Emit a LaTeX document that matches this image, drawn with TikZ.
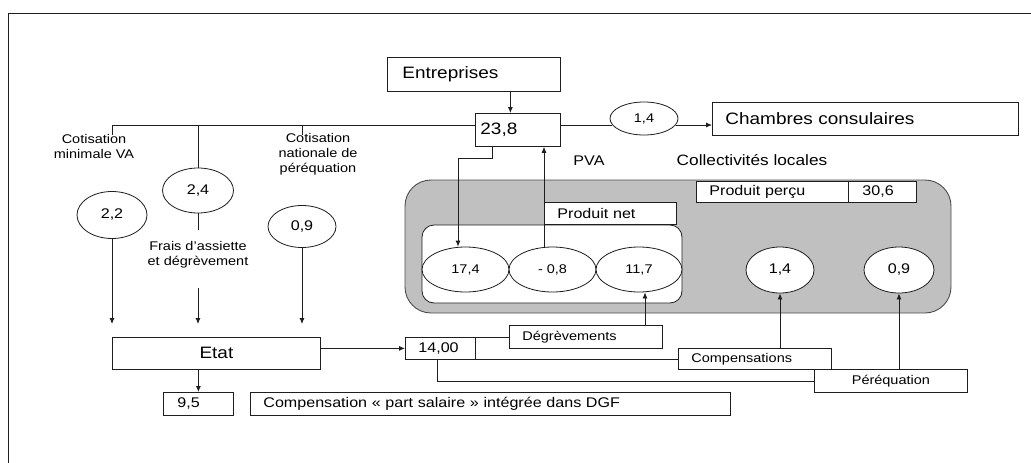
\documentclass[tikz,border=0pt]{standalone}
\usepackage{fontspec}
\setmainfont{Liberation Sans}[FakeStretch=1.15]
\usetikzlibrary{shapes.geometric,arrows.meta,calc}
\definecolor{greyfill}{RGB}{192,192,192}
\definecolor{ink}{RGB}{30,30,30}
\newcommand{\fbig}{\fontsize{16.5}{19}\selectfont}
\newcommand{\fmed}{\fontsize{14}{16}\selectfont}
\newcommand{\fsml}{\fontsize{12.6}{15}\selectfont}
\begin{document}
\begin{tikzpicture}[x=1pt,y=-1pt,
  line/.style={draw=ink,line width=0.8pt},
  arr/.style={line,-{Latex[length=6pt,width=5pt]}},
  tbox/.style={draw=ink,line width=0.8pt,rectangle,inner ysep=0pt,align=left,anchor=north west,fill=white},
  ell/.style={draw=ink,line width=0.8pt,ellipse,inner sep=0pt,fill=white},
  lbl/.style={align=center,inner sep=0pt,font=\fsml}]
\useasboundingbox (0,0) rectangle (1031,463);
% outer frame
\coordinate (fbl) at (8,463);
\coordinate (ftl) at (8,13);
\coordinate (ftr) at (1031,13);
\draw[line] (fbl) -- (ftl) -- (ftr);

% collectivites locales box
\node[draw=gray!60!black,line width=0.9pt,fill=greyfill,rounded corners=26pt,minimum width=546pt,minimum height=133pt,inner sep=0pt] (cl) at (678,246.5) {};
\node[draw=ink,line width=0.8pt,fill=white,rounded corners=12pt,minimum width=260pt,minimum height=78pt,inner sep=0pt] (pnbox) at (552,264) {};

% boxes
\node[tbox,inner xsep=15pt,text width=143pt,minimum height=34pt,font=\fbig] (ent) at (387,57) {Entreprises};
\node[tbox,inner xsep=5pt,text width=75pt,minimum height=33pt,font=\fbig] (b238) at (475,113) {23,8};
\node[tbox,inner xsep=13pt,text width=280pt,minimum height=33pt,font=\fbig] (ch) at (712,102) {Chambres consulaires};
\node[tbox,inner xsep=13pt,text width=106pt,minimum height=22pt,font=\fmed] (pnet) at (544,202) {Produit net};
\node[tbox,inner xsep=13pt,text width=126pt,minimum height=21pt,font=\fmed] (pperc) at (696,181) {Produit perçu};
\node[tbox,inner xsep=14pt,text width=40pt,minimum height=21pt,font=\fmed] (v306) at (848,181) {30,6};
\node[tbox,align=center,inner xsep=0pt,text width=208pt,minimum height=32pt,font=\fbig] (etat) at (112,337) {Etat};
\node[tbox,inner xsep=14pt,text width=42pt,minimum height=23pt,font=\fmed] (b95) at (163,392) {9,5};
\node[tbox,inner xsep=13pt,text width=454pt,minimum height=23pt,font=\fmed] (dgf) at (250,392) {Compensation « part salaire » intégrée dans DGF};
\node[tbox,inner xsep=13pt,text width=44pt,minimum height=22pt,font=\fmed] (b1400) at (405,337) {14,00};
\node[tbox,inner xsep=13pt,text width=127pt,minimum height=23pt,font=\fsml] (degr) at (509,325) {Dégrèvements};
\node[tbox,inner xsep=13pt,text width=127pt,minimum height=21pt,font=\fsml] (comp) at (678,348) {Compensations};
\node[tbox,align=center,inner xsep=0pt,text width=153pt,minimum height=23pt,font=\fsml] (pereq) at (814,369) {Péréquation};

% ellipses
\node[ell,minimum width=68pt,minimum height=33pt,font=\fsml] (e14t) at (644,118.5) {1,4};
\node[ell,minimum width=70pt,minimum height=47pt,font=\fmed] (e22) at (112,215) {2,2};
\node[ell,minimum width=71pt,minimum height=45pt,font=\fmed] (e24) at (198,190.5) {2,4};
\node[ell,minimum width=68pt,minimum height=42pt,font=\fmed] (e09l) at (302,226.5) {0,9};
\node[ell,minimum width=87pt,minimum height=45pt,font=\fsml] (e174) at (465.5,269.5) {17,4};
\node[ell,minimum width=87pt,minimum height=45pt,font=\fsml] (e08) at (552.5,269.5) {- 0,8};
\node[ell,minimum width=86pt,minimum height=45pt,font=\fsml] (e117) at (639,269.5) {11,7};
\node[ell,minimum width=68pt,minimum height=46pt,font=\fmed] (e14b) at (780,270) {1,4};
\node[ell,minimum width=70pt,minimum height=46pt,font=\fmed] (e09r) at (899,270) {0,9};

% free labels
\node[lbl] (lcmva) at (94,146) {Cotisation\\minimale VA};
\node[lbl] (lcnp) at (318,154) {Cotisation\\nationale de\\péréquation};
\node[lbl] (lfrais) at (198,255) {Frais d'assiette\\et dégrèvement};
\node[inner sep=0pt,font=\fmed] (pva) at (589,161) {PVA};
\node[inner sep=0pt,font=\fontsize{15}{18}\selectfont] (coll) at (752,160) {Collectivités locales};

% coordinates
\coordinate (hy) at (0,125);
\coordinate (t1) at (112,125);
\coordinate (t1e) at (112,135);
\coordinate (t3) at (302,125);
\coordinate (t3e) at (302,135);
\coordinate (t2) at (198,125);
\coordinate (a1) at (112,324);
\coordinate (f2s) at (198,230);
\coordinate (f2b) at (198,288);
\coordinate (a2) at (198,324);
\coordinate (a3) at (302,324);
\coordinate (d1) at (492,158);
\coordinate (d2) at (458,158);
\coordinate (py) at (0,381);

% connectors
\draw[arr] ([xshift=-7.5pt]b238.north |- ent.south) -- ([xshift=-7.5pt]b238.north);
\draw[line] (b238.west |- hy) -- (t1) -- (t1e);
\draw[line] (t2) -- (e24.north);
\draw[line] (t3) -- (t3e);
\draw[arr] (e22.south) -- (a1);
\draw[line] (e24.south) -- (f2s);
\draw[arr] (f2b) -- (a2);
\draw[arr] (e09l.south) -- (a3);
\draw[line] (b238.east |- hy) -- (e14t.192 |- hy);
\draw[arr] (e14t.-12 |- hy) -- (ch.west |- hy);
\draw[arr] (b238.south -| d1) -- (d1) -- (d2) -- (d2 |- e174.north);
\draw[arr] ([xshift=-8.5pt]e08.north) -- ([xshift=-8.5pt]e08.north |- b238.south);
\draw[arr] (b95.north |- etat.south) -- (b95.north);
\draw[arr] (etat.east |- b1400.west) -- (b1400.west);
\draw[line] (b1400.north east) -- (degr.west |- b1400.north east);
\draw[line] (b1400.south east) -- (comp.west |- b1400.south east);
\draw[line] ([xshift=-3pt]b1400.south) -- ([xshift=-3pt]b1400.south |- py) -- (pereq.west |- py);
\draw[arr] ([xshift=6pt]e117.south |- degr.north) -- ([xshift=6pt]e117.south);
\draw[arr] (e14b.south |- comp.north) -- (e14b.south);
\draw[arr] (e09r.south |- pereq.north) -- (e09r.south);
\end{tikzpicture}
\end{document}
